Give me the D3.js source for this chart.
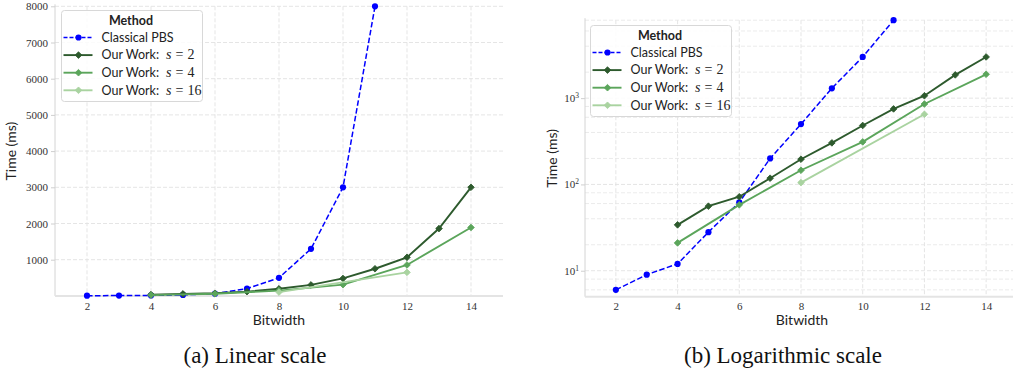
<!DOCTYPE html>
<html><head><meta charset="utf-8">
<script src="https://cdn.jsdelivr.net/npm/d3@7"></script>
<style>
html,body{margin:0;padding:0;background:#fff;}
svg{display:block;}
.tick-lab{font-family:"Liberation Serif",serif;font-size:11px;fill:#333;}
.axlab{font-family:Lato,"Open Sans",sans-serif;font-size:14px;fill:#222;}
.leg{font-family:Lato,"Open Sans",sans-serif;font-size:12.5px;fill:#222;}
.cap{font-family:"Liberation Serif",serif;font-size:23px;fill:#111;}
</style>
</head><body>
<svg id="chart" width="1013" height="380"></svg>
<script>
// ---- data ----
const methods = ["Classical PBS", "Our Work: s = 2", "Our Work: s = 4", "Our Work: s = 16"];
const pbsBits = [2, 3, 4, 5, 6, 7, 8, 9, 10, 11];
const pbsTime = [6, 9, 12, 28, 62, 200, 500, 1300, 3000, 8000];
const s2Bits = [4, 5, 6, 7, 8, 9, 10, 11, 12, 13, 14];
const s2Time = [34, 56, 72, 118, 196, 303, 482, 750, 1066, 1860, 3000];
const s4Bits = [4, 6, 8, 10, 12, 14];
const s4Time = [21, 58, 146, 311, 855, 1890];
const s16Bits = [8, 12];
const s16Time = [105, 650];
const xTicks = [2, 4, 6, 8, 10, 12, 14];
const linYTicks = [1000, 2000, 3000, 4000, 5000, 6000, 7000, 8000];
const logYTicks = [10, 100, 1000];
const logMinor = [6, 8, 20, 40, 60, 80, 200, 400, 600, 800, 2000, 4000, 6000, 8000];
const captions = ["(a) Linear scale", "(b) Logarithmic scale"];

const series = [
  {name: methods[0], bits: pbsBits, time: pbsTime, color: "#0000ff", dash: "5.55,2.4", width: 1.5, marker: "circle", mathS: null},
  {name: methods[1], bits: s2Bits, time: s2Time, color: "#2d5a2d", dash: null, width: 1.9, marker: "diamond", mathS: "2"},
  {name: methods[2], bits: s4Bits, time: s4Time, color: "#5ba55b", dash: null, width: 1.9, marker: "diamond", mathS: "4"},
  {name: methods[3], bits: s16Bits, time: s16Time, color: "#a9d3a0", dash: null, width: 1.9, marker: "diamond", mathS: "16"}
];

const svg = d3.select("#chart");
svg.append("rect").attr("width", 1013).attr("height", 380).attr("fill", "#fff");

function drawPanel(cfg) {
  const g = svg.append("g");
  const x = d3.scaleLinear().domain([1, 15]).range(cfg.xRange);
  const y = cfg.log ? d3.scaleLog().domain([5, 8000]).range(cfg.yRange)
                    : d3.scaleLinear().domain([0, 8000]).range(cfg.yRange);
  const [x0, x1] = cfg.xRange;
  const [yb, yt] = cfg.yRange;
  const grid = g.append("g");
  grid.selectAll(".vg").data(xTicks).join("line")
    .attr("x1", d => x(d)).attr("x2", d => x(d)).attr("y1", yt).attr("y2", yb)
    .attr("stroke", "#e2e2e2").attr("stroke-width", 0.9).attr("stroke-dasharray", "4,2");
  if (cfg.log) {
    grid.selectAll(".mg").data(logMinor).join("line")
      .attr("x1", x0).attr("x2", x1).attr("y1", d => y(d)).attr("y2", d => y(d))
      .attr("stroke", "#e6e6e6").attr("stroke-width", 0.8).attr("stroke-dasharray", "4,2");
  }
  const yT = cfg.log ? logYTicks : linYTicks;
  grid.selectAll(".hg").data(yT).join("line")
    .attr("x1", x0).attr("x2", x1).attr("y1", d => y(d)).attr("y2", d => y(d))
    .attr("stroke", "#e2e2e2").attr("stroke-width", 0.9).attr("stroke-dasharray", "4,2");

  // spines
  g.append("line").attr("x1", x0).attr("x2", x0).attr("y1", yt - 2).attr("y2", yb)
    .attr("stroke", "#d4d4d4").attr("stroke-width", 1);
  g.append("line").attr("x1", x0).attr("x2", x1).attr("y1", yb).attr("y2", yb)
    .attr("stroke", "#e4e4e4").attr("stroke-width", 2);

  const yAxis = d3.axisLeft(y).tickValues(yT).tickSize(4).tickPadding(3).tickFormat(d3.format("d"));
  const ya = g.append("g").attr("transform", `translate(${x0},0)`).call(yAxis);
  ya.select(".domain").remove();
  ya.selectAll(".tick line").attr("stroke", "#cfcfcf");
  ya.selectAll(".tick text").attr("class", "tick-lab").attr("fill", "#333").attr("font-family", null).attr("font-size", null);
  if (cfg.log) {
    ya.selectAll(".tick").each(function(d) {
      const t = d3.select(this).select("text");
      t.text("").attr("x", -6);
      t.append("tspan").text("10");
      t.append("tspan").text(Math.round(Math.log10(d))).attr("font-size", "7.5px").attr("dy", "-4");
    });
  }
  const xa = g.append("g").attr("transform", `translate(0,${yb})`)
    .call(d3.axisBottom(x).tickValues(xTicks).tickSize(0).tickPadding(6).tickFormat(d3.format("d")));
  xa.select(".domain").remove();
  xa.selectAll(".tick text").attr("class", "tick-lab").attr("font-family", null).attr("font-size", null).attr("fill", "#333");

  g.append("text").attr("class", "axlab").attr("x", (x0 + Math.min(x1, 1013)) / 2 - cfg.xlabShift).attr("y", 325)
    .attr("text-anchor", "middle").text("Bitwidth");
  g.append("text").attr("class", "axlab")
    .attr("transform", `translate(${cfg.ylabX},${(yt + yb) / 2}) rotate(-90)`)
    .attr("text-anchor", "middle").text("Time (ms)");

  series.forEach(s => {
    const pts = s.bits.map((b, i) => [b, s.time[i]]);
    const line = d3.line().x(d => x(d[0])).y(d => y(d[1]));
    g.append("path").datum(pts).attr("d", line).attr("fill", "none")
      .attr("stroke", s.color).attr("stroke-width", s.width)
      .attr("stroke-dasharray", s.dash);
    drawMarkers(g, pts.map(d => [x(d[0]), y(d[1])]), s);
  });

  drawLegend(g, cfg.legX, cfg.legY);

  svg.append("text").attr("class", "cap").attr("x", cfg.capX).attr("y", 363)
    .attr("text-anchor", "middle").text(cfg.caption);
}

function drawMarkers(g, pts, s) {
  if (s.marker === "circle") {
    g.selectAll(null).data(pts).join("circle")
      .attr("cx", d => d[0]).attr("cy", d => d[1]).attr("r", 3.1).attr("fill", s.color);
  } else {
    const sym = d3.symbol().type(d3.symbolSquare).size(22);
    g.selectAll(null).data(pts).join("path")
      .attr("d", sym).attr("transform", d => `translate(${d[0]},${d[1]}) rotate(45)`)
      .attr("fill", s.color).attr("stroke", s.color).attr("stroke-width", 0.8).attr("stroke-linejoin", "round");
  }
}

function drawLegend(g, lx, ly) {
  const w = 141, h = 91;
  const lg = g.append("g").attr("transform", `translate(${lx},${ly})`);
  lg.append("rect").attr("width", w).attr("height", h).attr("rx", 3)
    .attr("fill", "#fff").attr("fill-opacity", 0.85).attr("stroke", "#d8d8d8").attr("stroke-width", 1);
  lg.append("text").attr("class", "leg").attr("x", w / 2 - 1).attr("y", 14)
    .attr("text-anchor", "middle").attr("font-weight", "bold").text("Method");
  series.forEach((s, i) => {
    const yy = 27 + i * 17.6;
    lg.append("line").attr("x1", 2).attr("x2", 31).attr("y1", yy).attr("y2", yy)
      .attr("stroke", s.color).attr("stroke-width", s.width).attr("stroke-dasharray", s.dash ? "4,2" : null);
    drawMarkers(lg, [[17, yy]], s);
    const t = lg.append("text").attr("class", "leg").attr("x", 40).attr("y", yy + 4.3);
    if (s.mathS === null) {
      t.text(s.name);
    } else {
      t.append("tspan").text("Our Work:");
      t.append("tspan").text("s").attr("dx", 7).attr("font-family", "Liberation Serif, serif").attr("font-style", "italic").attr("font-size", "14px");
      t.append("tspan").text("=").attr("dx", 4).attr("font-family", "Liberation Serif, serif").attr("font-size", "14px");
      t.append("tspan").text(s.mathS).attr("dx", 4).attr("font-family", "Liberation Serif, serif").attr("font-size", "14px");
    }
  });
}

drawPanel({log: false, xRange: [55, 503], yRange: [295.9, 6.3], legX: 61.5, legY: 10.5,
  ylabX: 16, xlabShift: 0, capX: 255, caption: captions[0]});
drawPanel({log: true, xRange: [585, 1017], yRange: [296.7, 20.2], legX: 590.5, legY: 25.5,
  ylabX: 557, xlabShift: -3, capX: 783, caption: captions[1]});
</script>
</body></html>
